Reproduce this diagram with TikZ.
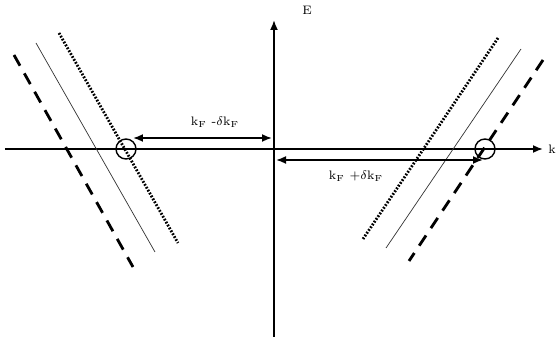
\documentclass[tikz,border=0pt]{standalone}
\usepackage{amsmath,amssymb}
\usepackage{tikz}
\usetikzlibrary{arrows.meta}

\begin{document}
\begin{tikzpicture}[every node/.style={font=\scriptsize}, >={Latex[length=2mm,width=1.6mm]}, axis/.style={line width=1pt}, band/.style={line width=1.6pt}, pt/.style={draw, circle, line width=0.8pt, minimum size=0.4cm, inner sep=0pt}]
	\useasboundingbox (-5.48,2.98) rectangle (5.64,-3.90);
	% axes
	\coordinate (kL) at (-5.38,0);
	\coordinate (kR) at (5.38,0);
	\coordinate (EB) at (0,-3.76);
	\coordinate (ET) at (0,2.58);
	\draw[axis, ->] (kL) -- (kR) node[anchor=west, inner sep=1pt, xshift=1.5pt] {k};
	\draw[axis, ->] (EB) -- (ET);
	\node (E) at (0.66,2.78) {E};
	% left branch
	\coordinate (L1a) at (-4.30,2.32); \coordinate (L1b) at (-1.92,-1.88);
	\coordinate (L2a) at (-4.76,2.12); \coordinate (L2b) at (-2.38,-2.06);
	\coordinate (L3a) at (-5.20,1.88); \coordinate (L3b) at (-2.82,-2.36);
	\draw[band, dash pattern=on 1pt off 0.9pt] (L1a) -- (L1b);
	\draw[thin, black!80] (L2a) -- (L2b);
	\draw[band, dash pattern=on 7pt off 5pt] (L3a) -- (L3b);
	% right branch
	\coordinate (R1a) at (4.48,2.22); \coordinate (R1b) at (1.78,-1.80);
	\coordinate (R2a) at (4.94,2.00); \coordinate (R2b) at (2.24,-1.98);
	\coordinate (R3a) at (5.38,1.78); \coordinate (R3b) at (2.70,-2.24);
	\draw[band, dash pattern=on 1pt off 0.9pt] (R1a) -- (R1b);
	\draw[thin, black!80] (R2a) -- (R2b);
	\draw[band, dash pattern=on 7pt off 5pt] (R3a) -- (R3b);
	% Fermi points
	\node[pt] (PL) at (-2.96,0) {};
	\node[pt] (PR) at (4.22,0) {};
	% wave vectors
	\coordinate (UL) at (-2.82,0.22);
	\coordinate (UR) at (-0.04,0.22);
	\coordinate (DL) at (0.04,-0.22);
	\coordinate (DR) at (4.18,-0.22);
	\draw[axis, <->] (UL) -- (UR);
	\draw[axis, <->] (DL) -- (DR);
	\node (lblm) at (-1.18,0.54) {k\textsubscript{F} -$\delta$k\textsubscript{F}};
	\node (lblp) at (1.64,-0.54) {k\textsubscript{F} +$\delta$k\textsubscript{F}};
\end{tikzpicture}
\end{document}
